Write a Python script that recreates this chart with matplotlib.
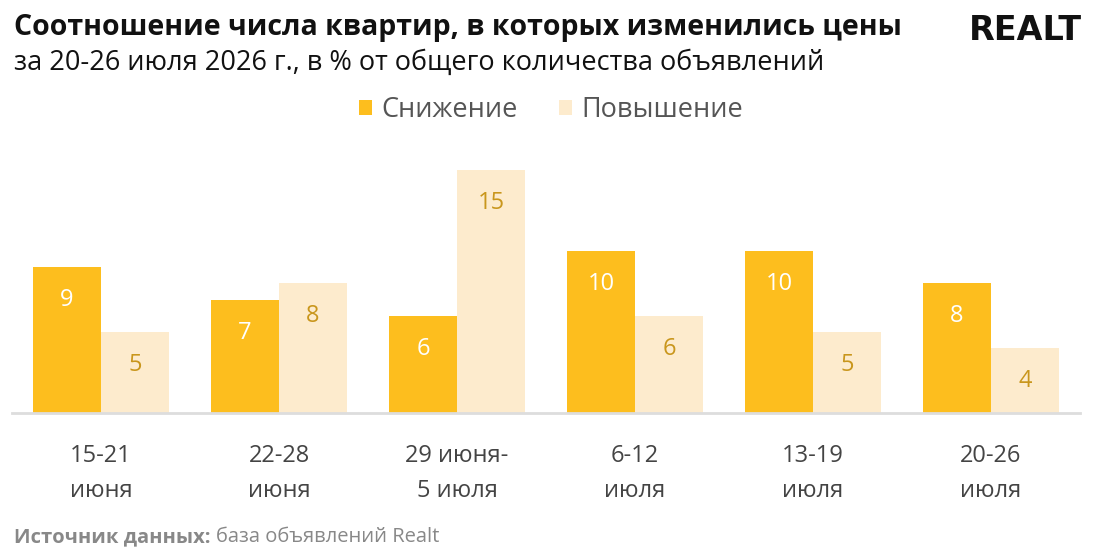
import matplotlib.pyplot as plt
import numpy as np

plt.rcParams['font.family'] = ['Open Sans', 'DejaVu Sans']

CATEGORIES = ["15-21\nиюня", "22-28\nиюня", "29 июня-\n5 июля", "6-12\nиюля", "13-19\nиюля", "20-26\nиюля"]
DECREASE = [9, 7, 6, 10, 10, 8]
INCREASE = [5, 8, 15, 6, 5, 4]

ORANGE = "#FDBE1E"
LIGHT = "#FDEBCD"
LIGHT_TEXT = "#C9961C"

fig = plt.figure(figsize=(11, 5.58), dpi=100)
ax = fig.add_axes([12 / 1100, 1 - 413 / 558, (1080 - 12) / 1100, (413 - 150) / 558])

x = np.arange(len(CATEGORIES))
w = 68 / 178
b1 = ax.bar(x - w / 2, DECREASE, w, color=ORANGE, label="Снижение")
b2 = ax.bar(x + w / 2, INCREASE, w, color=LIGHT, label="Повышение")

# value labels sit ~33 px below the top of each bar
for rect, v in zip(b1, DECREASE):
    ax.annotate(str(v), (rect.get_x() + rect.get_width() / 2, v), xytext=(0, -33),
                textcoords="offset pixels", ha="center", va="center",
                fontsize=17, color="white")
for rect, v in zip(b2, INCREASE):
    ax.annotate(str(v), (rect.get_x() + rect.get_width() / 2, v), xytext=(0, -33),
                textcoords="offset pixels", ha="center", va="center",
                fontsize=17, color=LIGHT_TEXT)

ax.set_xlim(-0.5, len(CATEGORIES) - 0.5)
ax.set_ylim(0, 263 / 16.2)
ax.set_yticks([])
ax.set_xticks(x)
ax.set_xticklabels(CATEGORIES, fontsize=17, color="#444444", linespacing=1.62)
ax.tick_params(axis="x", length=0, pad=22)
for s in ["top", "right", "left"]:
    ax.spines[s].set_visible(False)
ax.spines["bottom"].set_color("#DDDDDD")
ax.spines["bottom"].set_linewidth(2)

fig.text(14 / 1100, 1 - 28 / 558, "Соотношение числа квартир, в которых изменились цены",
         fontsize=20.5, fontweight="bold", color="#111111", va="center")
fig.text(14 / 1100, 1 - 63 / 558, "за 20-26 июля 2026 г., в % от общего количества объявлений",
         fontsize=19.5, color="#111111", va="center")
fig.text(1082 / 1100, 1 - 30 / 558, "REALT", fontsize=24, fontweight="bold",
         family="DejaVu Sans", color="#111111", ha="right", va="center")

leg = fig.legend(handles=[b1, b2], loc="center", bbox_to_anchor=(551 / 1100, 1 - 110 / 558),
                 ncol=2, frameon=False, fontsize=19.5, handlelength=0.5, handleheight=0.5,
                 handletextpad=0.35, columnspacing=1.5)
for t in leg.get_texts():
    t.set_color("#555555")

src = fig.text(14 / 1100, 1 - 537 / 558, "Источник данных:", fontsize=14.5,
               fontweight="bold", color="#888888", va="center")
fig.canvas.draw()
bb = src.get_window_extent()
fig.text(bb.x1 / 1100 + 5 / 1100, 1 - 537 / 558, "база объявлений Realt", fontsize=14.5,
         color="#888888", va="center")

fig.savefig("out.png", dpi=100)
